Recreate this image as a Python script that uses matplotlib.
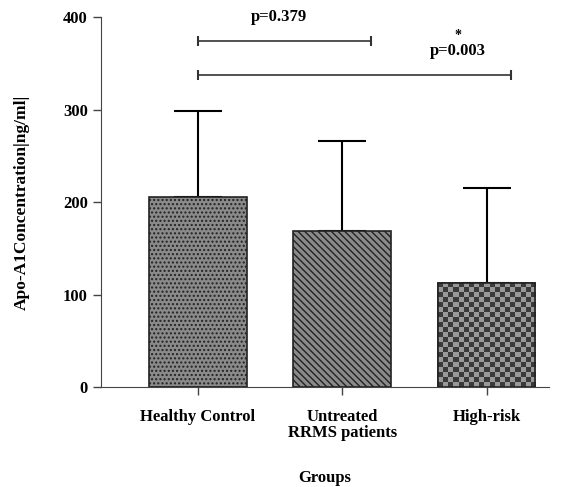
import numpy as np
import matplotlib.pyplot as plt

plt.rcParams['font.family'] = ['Liberation Serif', 'DejaVu Serif']
plt.rcParams['font.weight'] = 'bold'
plt.rcParams['hatch.color'] = '#333333'

# данные
groups = ['Healthy Control', 'Untreated\nRRMS patients', 'High-risk']
means = [205, 169, 113]
sds = [93, 97, 102]
hatches = ['....', '\\\\\\\\\\', None]

# линии сравнения: начало, конец, высота
bracket_x0 = [0, 0]
bracket_x1 = [1.2, 2.17]
bracket_y = [374, 337]
p_labels = ['p=0.379', 'p=0.003']
p_x = [0.565, 1.8]
p_y = [400, 363]

fig = plt.figure(figsize=(5.74, 4.87), dpi=100)
ax = fig.add_axes([0.176, 0.205, 0.78, 0.76])

x = np.arange(len(groups))
bars = ax.bar(x, means, width=0.675, color='#8a8a8a', edgecolor='#222222',
              linewidth=1.2, zorder=2)
for b, h in zip(bars, hatches):
    if h:
        b.set_hatch(h)

# шахматка для третьего столбца
b = bars[2]
rows, cols = 21, 19
board = (np.add.outer(np.arange(rows), np.arange(cols)) % 2).astype(float)
im = ax.imshow(board, cmap='gray', vmin=-0.62, vmax=2.08, interpolation='nearest',
               extent=[b.get_x(), b.get_x() + b.get_width(), 0, b.get_height()],
               aspect='auto', zorder=2.5)
im.set_clip_path(b)
ax.bar(x[2], means[2], width=0.675, color='none', edgecolor='#222222',
       linewidth=1.2, zorder=3)

ax.errorbar(x, means, yerr=[np.zeros(3), sds], fmt='none', ecolor='black',
            elinewidth=1.5, capsize=17, capthick=1.5, zorder=1)

for x0, x1, y in zip(bracket_x0, bracket_x1, bracket_y):
    ax.plot([x0, x1], [y, y], color='#333333', lw=1.2, marker='|', ms=7,
            mew=1.5, clip_on=False)
for px, py, t in zip(p_x, p_y, p_labels):
    ax.text(px, py, t, ha='center', va='center', fontsize=12, clip_on=False)
ax.text(p_x[1], p_y[1] + 17, '*', ha='center', va='center', fontsize=10)

ax.set_xlim(-0.67, 2.43)
ax.set_ylim(0, 400)
ax.set_yticks([0, 100, 200, 300, 400])
ax.set_xticks(x)
ax.set_xticklabels(groups, fontsize=12, linespacing=1.0)
ax.tick_params(axis='y', labelsize=12, width=1, length=6, color='#444444')
ax.tick_params(axis='x', width=1, length=6, color='#444444', pad=10)
ax.spines['top'].set_visible(False)
ax.spines['right'].set_visible(False)
ax.spines['left'].set_color('#444444')
ax.spines['bottom'].set_color('#444444')
ax.set_ylabel('Apo-A1Concentration|ng/ml|', fontsize=12.5, fontweight='bold')
ax.yaxis.set_label_coords(-0.159, 0.5)
ax.set_xlabel('Groups', fontsize=12, fontweight='bold')
ax.xaxis.set_label_coords(0.5, -0.225)

plt.savefig('out.png')
